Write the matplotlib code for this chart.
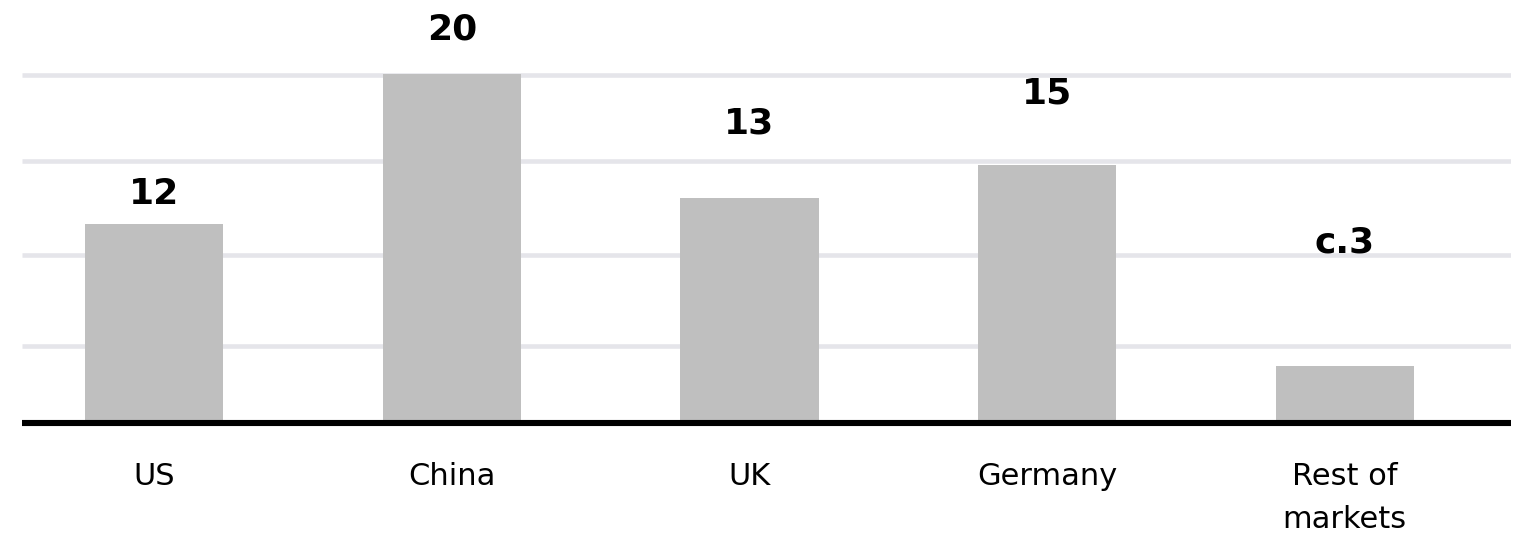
# Bar chart: market values by country, recreated with matplotlib

# Imports
import matplotlib.pyplot as plt
import numpy as np

# Data
markets = ["US", "China", "UK", "Germany", "Rest of\nmarkets"]
bar_values = [11.4, 20.0, 12.9, 14.8, 3.25]
value_labels = ["12", "20", "13", "15", "c.3"]
# the value labels float at their own heights in the original
label_heights = [12.55, 22.0, 16.6, 18.3, 9.75]
grid_values = [4.4, 9.6, 15.0, 19.95]


def draw_chart():
    fig = plt.figure(figsize=(15.22, 5.33), dpi=100)
    # axes bottom sits on the black baseline
    ax = fig.add_axes([22 / 1522, 110 / 533, (1511 - 22) / 1522, 423 / 533])

    x = np.arange(len(markets))
    ax.bar(x, bar_values, width=0.464, color="#bfbfbf", zorder=2)

    # Light horizontal gridlines
    for g in grid_values:
        ax.axhline(g, color="#e5e5ea", linewidth=3.3, zorder=1,
                   solid_capstyle="butt")

    for xi, label, h in zip(x, value_labels, label_heights):
        ax.text(xi, h, label, ha="center", va="baseline",
                fontsize=26, fontweight="bold", color="black")

    ax.set_xlim(-0.4446, 4.559)
    ax.set_ylim(0, 423 / 17.45)

    ax.set_xticks(x)
    ax.set_xticklabels(markets, fontsize=22, linespacing=1.62)
    ax.tick_params(axis="x", length=0, pad=28)
    ax.set_yticks([])

    for side in ["top", "right", "left"]:
        ax.spines[side].set_visible(False)
    # Thick black baseline
    ax.spines["bottom"].set_linewidth(4.4)
    ax.spines["bottom"].set_color("black")
    ax.spines["bottom"].set_capstyle("butt")
    ax.spines["bottom"].set_zorder(3)

    fig.savefig("out.png", dpi=100)


# Main Function
def main():
    draw_chart()


if __name__ == "__main__":
    main()
